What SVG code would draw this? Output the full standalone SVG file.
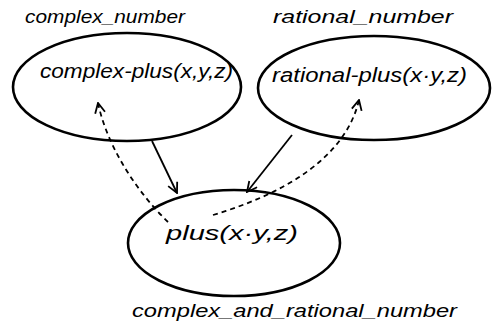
<svg xmlns="http://www.w3.org/2000/svg" width="495" height="331" viewBox="0 0 495 331">
<defs>
<style>
.node{fill:none;stroke:#000;stroke-width:2.6}
.t{font-family:"Liberation Sans","DejaVu Sans",sans-serif;font-style:italic;fill:#000}
.in{font-size:20px}
.lab{font-size:19px}
.solid{fill:none;stroke:#000;stroke-width:1.8}
.dash{fill:none;stroke:#000;stroke-width:1.8;stroke-dasharray:5 4}
</style>
<marker id="ah" viewBox="0 0 12 12" refX="11" refY="6" markerWidth="12" markerHeight="12" markerUnits="userSpaceOnUse" orient="auto">
<path d="M1,1 L11,6 L1,11" fill="none" stroke="#000" stroke-width="1.8"/>
</marker>
</defs>
<rect width="495" height="331" fill="#fff"/>
<g id="complex_number">
<ellipse class="node" cx="127" cy="87" rx="114" ry="54"/>
<text class="t lab" x="25" y="23" textLength="160" lengthAdjust="spacingAndGlyphs">complex_number</text>
<text class="t in" x="40" y="78" textLength="193" lengthAdjust="spacingAndGlyphs">complex-plus(x,y,z)</text>
</g>
<g id="rational_number">
<ellipse class="node" cx="374" cy="88" rx="116" ry="52"/>
<text class="t lab" x="273" y="23" textLength="180" lengthAdjust="spacingAndGlyphs">rational_number</text>
<text class="t in" x="272" y="82" textLength="195" lengthAdjust="spacingAndGlyphs">rational-plus(x·y,z)</text>
</g>
<g id="complex_and_rational_number">
<ellipse class="node" cx="234" cy="243" rx="106" ry="53"/>
<text class="t in" x="166" y="240" textLength="132" lengthAdjust="spacingAndGlyphs">plus(x·y,z)</text>
<text class="t lab" x="132" y="317" textLength="325" lengthAdjust="spacingAndGlyphs">complex_and_rational_number</text>
</g>
<g id="connectors">
<path class="solid" d="M152,141 L177,193" marker-end="url(#ah)"/>
<path class="solid" d="M292,135 L247,192" marker-end="url(#ah)"/>
<path class="dash" d="M168,222 C140,195 108,150 98,103" marker-end="url(#ah)"/>
<path class="dash" d="M213,215 C280,195 345,160 359,100" marker-end="url(#ah)"/>
</g>
</svg>
